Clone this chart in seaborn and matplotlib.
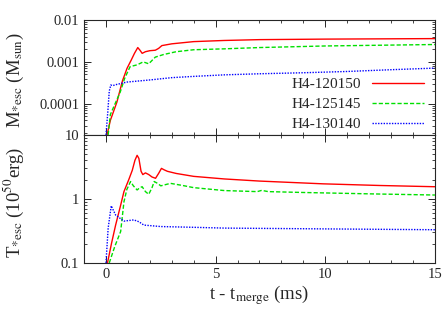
import numpy as np
import pandas as pd
import matplotlib
matplotlib.use("Agg")
import matplotlib.pyplot as plt
import matplotlib.ticker as mticker
import seaborn as sns

# model names
models = ["H4-120150", "H4-125145", "H4-130140"]
colors = ["#ff0000", "#00e000", "#0000ff"]
dashes = [(None, None), (3, 1.5), (1, 1)]

# escaping mass M*esc (Msun)
t_m_red = [0.05, 0.2, 0.5, 0.75, 0.96, 1.15, 1.3, 1.45, 1.55, 1.65, 1.8, 2.0, 2.25, 2.4, 2.55,
           3.0, 4.0, 5.4, 7.0, 10.0, 12.5, 15.0]
m_red = [1.8e-5, 4e-5, 1.1e-4, 3.5e-4, 7e-4, 1.1e-3, 1.6e-3, 2.2e-3, 1.9e-3, 1.6e-3, 1.75e-3,
         1.85e-3, 1.9e-3, 2.1e-3, 2.45e-3, 2.7e-3, 3.05e-3, 3.25e-3, 3.4e-3, 3.5e-3, 3.55e-3, 3.6e-3]
t_m_green = [0.1, 0.2, 0.45, 0.65, 0.85, 1.1, 1.42, 1.7, 1.95, 2.25, 2.63, 3.2, 4.0, 5.4,
             7.0, 10.0, 12.5, 15.0]
m_green = [1.8e-5, 5.5e-5, 1.1e-4, 1.9e-4, 4e-4, 7.7e-4, 8.5e-4, 1.0e-3, 9e-4, 1.3e-3, 1.5e-3,
           1.75e-3, 1.95e-3, 2.05e-3, 2.2e-3, 2.4e-3, 2.5e-3, 2.6e-3]
t_m_blue = [0.0, 0.08, 0.15, 0.22, 0.3, 0.5, 0.97, 2.0, 3.0, 4.0, 5.4, 7.0, 9.0, 11.0, 13.0, 15.0]
m_blue = [1.8e-5, 6e-5, 2.0e-4, 2.8e-4, 2.7e-4, 2.9e-4, 3.3e-4, 3.7e-4, 4.2e-4, 4.5e-4, 4.9e-4,
          5.2e-4, 5.5e-4, 5.9e-4, 6.5e-4, 7.1e-4]

# escaping energy T*esc (1e50 erg)
t_e_red = [0.07, 0.25, 0.44, 0.65, 0.82, 1.04, 1.2, 1.32, 1.42, 1.5, 1.6, 1.68, 1.8, 1.95, 2.1,
           2.26, 2.4, 2.53, 2.65, 2.8, 3.2, 4.0, 5.4, 7.0, 9.9, 12.5, 15.0]
e_red = [0.1, 0.2, 0.39, 0.75, 1.3, 2.0, 2.8, 4.0, 4.8, 4.3, 2.7, 2.4, 2.55, 2.4, 2.2, 2.1, 2.5,
         3.0, 2.85, 2.7, 2.5, 2.25, 2.05, 1.9, 1.72, 1.62, 1.55]
t_e_green = [0.15, 0.4, 0.67, 0.82, 0.95, 1.12, 1.25, 1.42, 1.55, 1.65, 1.8, 1.95, 2.1, 2.2,
             2.35, 2.5, 2.94, 3.5, 4.0, 5.4, 6.9, 7.1, 7.4, 9.0, 12.0, 15.0]
e_green = [0.1, 0.18, 0.31, 0.9, 1.4, 1.87, 1.6, 1.38, 1.5, 1.55, 1.3, 1.18, 1.5, 1.87, 1.75,
           1.6, 1.75, 1.62, 1.5, 1.35, 1.3, 1.36, 1.3, 1.26, 1.2, 1.15]
t_e_blue = [0.0, 0.1, 0.24, 0.44, 0.82, 1.27, 1.5, 1.73, 2.5, 4.0, 5.4, 10.0, 15.0]
e_blue = [0.1, 0.35, 0.78, 0.56, 0.45, 0.47, 0.44, 0.39, 0.37, 0.36, 0.35, 0.34, 0.33]


def frame(ts, vs):
    parts = []
    for name, t, v in zip(models, ts, vs):
        parts.append(pd.DataFrame({"t": t, "v": v, "model": name}))
    return pd.concat(parts, ignore_index=True)


df_m = frame([t_m_red, t_m_green, t_m_blue], [m_red, m_green, m_blue])
df_e = frame([t_e_red, t_e_green, t_e_blue], [e_red, e_green, e_blue])

sns.set_style("ticks")
plt.rcParams["font.family"] = ["Liberation Serif", "DejaVu Serif"]
plt.rcParams["mathtext.fontset"] = "stix"
plt.rcParams["font.size"] = 10.5

fig = plt.figure(figsize=(4.47, 3.13), dpi=100)
ax1 = fig.add_axes([0.188, 0.569, 0.785, 0.367])
ax2 = fig.add_axes([0.188, 0.160, 0.785, 0.409])

palette = dict(zip(models, colors))
dash_map = dict(zip(models, dashes))

for ax, df in [(ax1, df_m), (ax2, df_e)]:
    sns.lineplot(data=df, x="t", y="v", hue="model", style="model", palette=palette,
                 dashes=dash_map, linewidth=1.0, ax=ax, sort=False, estimator=None,
                 legend=(ax is ax1))
    ax.set_yscale("log")
    ax.set_xlim(-1, 15)
    ax.xaxis.set_major_locator(mticker.MultipleLocator(5))
    ax.xaxis.set_minor_locator(mticker.MultipleLocator(1))
    ax.tick_params(which="both", direction="in", top=True, right=True, labelsize=10.5)
    ax.tick_params(which="major", length=5, width=0.7)
    ax.tick_params(which="minor", length=2.5, width=0.6)
    for s in ax.spines.values():
        s.set_linewidth(0.8)

ax1.set_ylim(1.8e-5, 0.01)
ax1.set_yticks([1e-4, 1e-3, 1e-2])
ax1.set_yticklabels(["0.0001", "0.001", "0.01"])
ax1.yaxis.set_minor_locator(mticker.LogLocator(subs=np.arange(2, 10)))
ax1.yaxis.set_minor_formatter(mticker.NullFormatter())
ax1.set_xticklabels([])
ax1.set_xlabel("")
ax1.set_ylabel(r"M$_{*\mathrm{esc}}$ (M$_{\mathrm{sun}}$)", fontsize=13.5)

ax2.set_ylim(0.1, 10)
ax2.set_yticks([0.1, 1, 10])
ax2.set_yticklabels(["0.1", "1", "10"])
ax2.yaxis.set_minor_locator(mticker.LogLocator(subs=np.arange(2, 10)))
ax2.yaxis.set_minor_formatter(mticker.NullFormatter())
ax2.set_xticks([0, 5, 10, 15])
ax2.set_xticklabels(["0", "5", "10", "15"])
ax2.set_xlabel(r"t - t$_{\mathrm{merge}}$ (ms)", fontsize=13.5, labelpad=2)
ax2.set_ylabel(r"T$_{*\mathrm{esc}}$ (10$^{50}$erg)", fontsize=13.5)

ax1.yaxis.set_label_coords(-0.165, 0.48)
ax2.yaxis.set_label_coords(-0.165, 0.47)

leg = ax1.legend(loc="lower right", bbox_to_anchor=(0.968, 0.03), frameon=False,
                 markerfirst=False, fontsize=11, handlelength=3.4, handletextpad=0.7,
                 labelspacing=0.42, borderaxespad=0, borderpad=0)

fig.savefig("out.png", dpi=100)
